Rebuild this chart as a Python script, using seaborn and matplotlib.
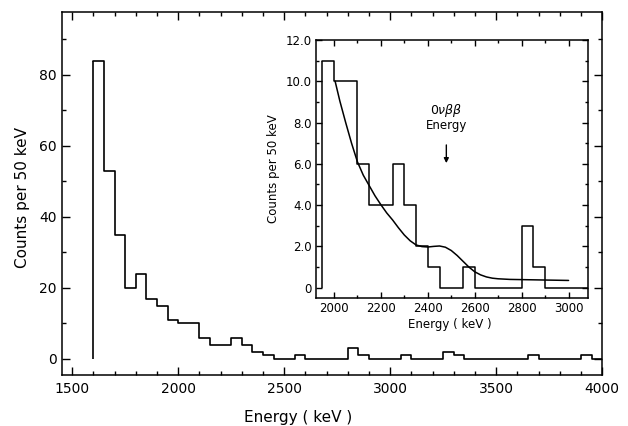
import numpy as np
import pandas as pd
import matplotlib
matplotlib.use("Agg")
import matplotlib.pyplot as plt
import matplotlib.ticker as mticker
import seaborn as sns

# main spectrum, 50 keV bins starting at 1600 keV
bin_width = 50
main_start = 1600
main_counts = [84, 53, 35, 20, 24, 17, 15, 11, 10, 10,
               6, 4, 4, 6, 4, 2, 1, 0, 0, 1,
               0, 0, 0, 0, 3, 1, 0, 0, 0, 1,
               0, 0, 0, 2, 1, 0, 0, 0, 0, 0,
               0, 1, 0, 0, 0, 0, 1, 0]

# inset spectrum (as drawn in the inset), starting at 1950 keV
inset_start = 1950
inset_counts = [11, 10, 10, 6, 4, 4, 6, 4, 2, 1,
                0, 0, 1, 0, 0, 0, 0, 3, 1, 0,
                0, 0, 0]

# fitted curve
fit_energy = [2005, 2025, 2050, 2075, 2100, 2125, 2150, 2175, 2200, 2225,
              2250, 2275, 2300, 2325, 2350, 2375, 2400, 2425, 2450, 2475,
              2500, 2525, 2550, 2575, 2600, 2625, 2650, 2675, 2700, 2750,
              2800, 2900, 3000]
fit_counts = [10.0, 9.05, 8.0, 7.0, 6.1, 5.45, 4.95, 4.45, 4.02, 3.62,
              3.28, 2.9, 2.55, 2.27, 2.07, 1.99, 1.97, 2.0, 2.02, 1.96,
              1.8, 1.56, 1.28, 1.0, 0.77, 0.62, 0.52, 0.46, 0.43, 0.40,
              0.39, 0.37, 0.35]

q_value = 2479


def draw_spectrum(ax, start, counts, lw):
    counts = np.asarray(counts, dtype=float)
    edges = start + bin_width * np.arange(len(counts) + 1)
    df = pd.DataFrame({"energy": edges[:-1] + bin_width / 2, "counts": counts})
    sns.histplot(data=df, x="energy", weights="counts", bins=list(edges),
                 element="step", fill=False, color="black", linewidth=lw, ax=ax)
    # leading edge of the histogram drawn down to zero
    ax.vlines(edges[0], 0, counts[0], color="black", linewidth=lw)


sns.set_style("ticks")
plt.rcParams["font.family"] = ["DejaVu Sans"]
plt.rcParams.update({"text.color": "black", "axes.labelcolor": "black",
                     "xtick.color": "black", "ytick.color": "black",
                     "axes.edgecolor": "black"})

fig = plt.figure(figsize=(6.28, 4.26), dpi=100)
ax = fig.add_axes([0.098, 0.120, 0.861, 0.852])

draw_spectrum(ax, main_start, main_counts, 1.2)
ax.set_xlim(1450, 4000)
ax.set_ylim(-4.5, 97.7)
ax.xaxis.set_major_locator(mticker.MultipleLocator(500))
ax.xaxis.set_minor_locator(mticker.MultipleLocator(100))
ax.yaxis.set_major_locator(mticker.MultipleLocator(20))
ax.yaxis.set_minor_locator(mticker.MultipleLocator(10))
ax.tick_params(which="both", direction="in", top=True, right=True,
               labelsize=10, width=1, color="black", labelcolor="black")
ax.tick_params(which="major", length=5.8)
ax.tick_params(which="minor", length=2.9)
ax.tick_params(axis="x", pad=5)
ax.tick_params(axis="y", pad=3.5)
ax.set_xlabel("Energy ( keV )", fontsize=11)
ax.set_ylabel("Counts per 50 keV", fontsize=11)
ax.xaxis.set_label_coords(0.437, -0.098)
ax.yaxis.set_label_coords(-0.059, 0.49)
for sp in ax.spines.values():
    sp.set_visible(True)
    sp.set_linewidth(1.1)
    sp.set_color("black")

# inset
ax_in = fig.add_axes([0.503, 0.3005, 0.433, 0.6056])
ax_in.set_facecolor("white")
draw_spectrum(ax_in, inset_start, inset_counts, 1.1)
sns.lineplot(x=fit_energy, y=fit_counts, color="black", linewidth=1.1, ax=ax_in)
ax_in.set_xlim(1923, 3082)
ax_in.set_ylim(-0.5, 12)
ax_in.xaxis.set_major_locator(mticker.MultipleLocator(200))
ax_in.xaxis.set_minor_locator(mticker.MultipleLocator(100))
ax_in.yaxis.set_major_locator(mticker.MultipleLocator(2))
ax_in.yaxis.set_minor_locator(mticker.MultipleLocator(1))
ax_in.yaxis.set_major_formatter(
    mticker.FuncFormatter(lambda v, p: "0" if abs(v) < 1e-9 else f"{v:.1f}"))
ax_in.tick_params(which="both", direction="in", top=True, right=True,
                  labelsize=8.5, width=1, color="black", labelcolor="black", pad=3)
ax_in.tick_params(which="major", length=4.3)
ax_in.tick_params(which="minor", length=2.0)
ax_in.set_xlabel("Energy ( keV )", fontsize=8.5)
ax_in.set_ylabel("Counts per 50 keV", fontsize=8.5)
ax_in.xaxis.set_label_coords(0.493, -0.078)
ax_in.yaxis.set_label_coords(-0.132, 0.5)
for sp in ax_in.spines.values():
    sp.set_visible(True)
    sp.set_linewidth(1.1)
    sp.set_color("black")

ax_in.text(q_value, 8.58, r"$0\nu\beta\beta$", ha="center", va="center", fontsize=9)
ax_in.text(q_value, 7.86, "Energy", ha="center", va="center", fontsize=8.5)
ax_in.annotate("", xy=(q_value, 5.9), xytext=(q_value, 7.05),
               arrowprops=dict(arrowstyle="-|>", color="black", lw=1,
                               mutation_scale=7))

fig.savefig("out.png", dpi=100)
plt.close(fig)
